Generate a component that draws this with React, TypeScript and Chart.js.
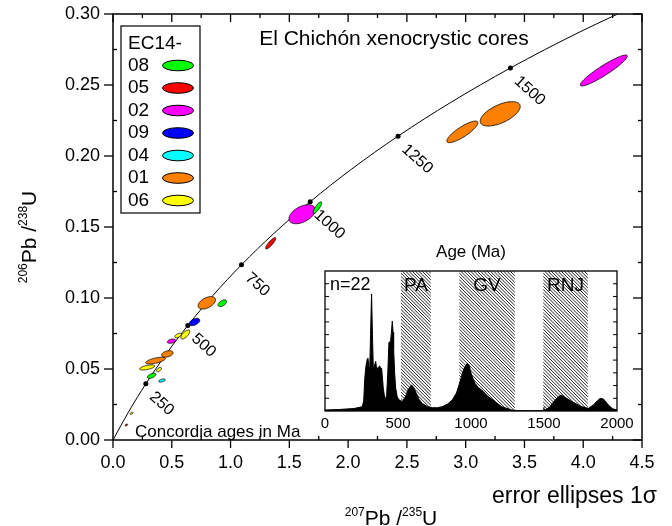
import React, { useEffect, useRef } from "react";
import { Chart, registerables } from "chart.js";
Chart.register(...registerables);

const FONT = '"Liberation Sans", Arial, Helvetica, sans-serif';

// Concordia curve (207Pb/235U, 206Pb/238U) sampled every 125 Ma
const concAges = [0, 125, 250, 375, 500, 625, 750, 875, 1000, 1125, 1250, 1375, 1500, 1625, 1750];
const concX = [0, 0.13101, 0.27917, 0.44675, 0.63628, 0.85064, 1.09307, 1.36729, 1.67741, 2.02817, 2.42487, 2.87355, 3.38099, 3.95492, 4.60404];
const concY = [0, 0.01958, 0.039543, 0.059897, 0.08065, 0.101809, 0.123382, 0.145377, 0.167804, 0.19067, 0.213982, 0.237752, 0.261988, 0.286697, 0.31189];

// Age marks on concordia
const markAges = [250, 500, 750, 1000, 1250, 1500];
const markX = [0.27917, 0.63628, 1.09307, 1.67741, 2.42487, 3.38099];
const markY = [0.039543, 0.08065, 0.123382, 0.167804, 0.213982, 0.261988];

// Legend groups
const groupNames = ["08", "05", "02", "09", "04", "01", "06"];
const groupColors = ["#00ff00", "#ff0000", "#ff00ff", "#0000ff", "#00ffff", "#ff8000", "#ffff00"];

// Grain error ellipses (1 sigma)
const grainGroup = ["02", "01", "01", "02", "08", "05", "01", "08", "09", "06", "06", "02", "01", "01", "06", "06", "08", "04", "06", "05"];
const grainX = [4.175, 3.294, 2.972, 1.609, 1.739, 1.341, 0.798, 0.930, 0.693, 0.615, 0.554, 0.498, 0.462, 0.362, 0.291, 0.391, 0.328, 0.417, 0.157, 0.114];
const grainSX = [0.200, 0.170, 0.132, 0.112, 0.036, 0.0426, 0.074, 0.036, 0.045, 0.038, 0.028, 0.036, 0.049, 0.084, 0.064, 0.021, 0.036, 0.028, 0.012, 0.010];
const grainY = [0.2602, 0.2297, 0.2170, 0.1590, 0.1637, 0.1385, 0.0966, 0.0963, 0.0831, 0.0743, 0.0736, 0.0696, 0.0606, 0.0559, 0.0511, 0.0496, 0.0452, 0.0419, 0.0188, 0.0106];
const grainSY = [0.0109, 0.0086, 0.0076, 0.0067, 0.0041, 0.0040, 0.0044, 0.0024, 0.0026, 0.0032, 0.0016, 0.0015, 0.0023, 0.0024, 0.0018, 0.0015, 0.0018, 0.0011, 0.0008, 0.0007];
const grainRho = [0.93, 0.60, 0.84, 0.47, 0.82, 0.86, 0.48, 0.52, 0.48, 0.69, 0.54, 0.36, 0.35, 0.63, 0.58, 0.58, 0.53, 0.46, 0.5, 0.5];

// Inset: probability density of ages
const kdeAge = [0, 100, 200, 255, 265, 272, 280, 290, 294, 300, 306, 312, 319, 325, 331, 340, 347, 352, 358, 365, 374, 380, 388, 399, 411, 422, 430, 438, 449, 455, 461, 466, 470, 477, 484, 495, 507, 530, 552, 570, 593, 610, 625, 645, 666, 700, 735, 770, 803, 840, 872, 900, 918, 935, 952, 965, 975, 985, 1004, 1027, 1050, 1073, 1118, 1164, 1210, 1278, 1324, 1400, 1484, 1520, 1541, 1565, 1587, 1616, 1644, 1690, 1758, 1804, 1838, 1865, 1884, 1907, 1941, 1970, 2000];
const kdeDensity = [0.8, 1.2, 2, 3.4, 8, 25, 35, 41, 41.5, 36, 31, 60, 92, 60, 33.5, 36, 39, 35, 33.5, 34, 35.5, 34, 33.5, 18, 8.7, 12, 30, 54, 54.5, 62, 70.7, 62, 49, 30, 18, 11, 8.7, 7.4, 11.3, 17, 20.5, 18, 13.9, 9, 6, 3.5, 2.6, 2.6, 3.4, 5.5, 8.7, 14, 20.5, 27, 33.5, 36, 37.5, 36.5, 28.3, 21.8, 18.5, 16.5, 11.3, 7.4, 3.4, 0.8, 0.3, 0.2, 0.3, 1.5, 3.3, 7, 10, 12.5, 10.8, 7.4, 3.4, 2.1, 4.7, 8, 9.9, 9.5, 4.7, 1.8, 0.8];
const zoneNames = ["PA", "GV", "RNJ"];
const zoneStart = [520, 920, 1495];
const zoneEnd = [725, 1300, 1800];

type Part = [string, boolean];
function drawRich(ctx: CanvasRenderingContext2D, parts: Part[], x: number, y: number, size: number, supSize: number, align: "left" | "center" | "right") {
  let w = 0;
  for (const [t, sup] of parts) {
    ctx.font = `${sup ? supSize : size}px ${FONT}`;
    w += ctx.measureText(t).width;
  }
  let cx = align === "left" ? x : align === "center" ? x - w / 2 : x - w;
  ctx.textAlign = "left";
  ctx.textBaseline = "alphabetic";
  for (const [t, sup] of parts) {
    ctx.font = `${sup ? supSize : size}px ${FONT}`;
    ctx.fillText(t, cx, sup ? y - size * 0.42 : y);
    cx += ctx.measureText(t).width;
  }
}

function line(ctx: CanvasRenderingContext2D, x1: number, y1: number, x2: number, y2: number) {
  ctx.beginPath();
  ctx.moveTo(x1, y1);
  ctx.lineTo(x2, y2);
  ctx.stroke();
}

function zeroPad(s: any) {
  s.paddingTop = 0;
  s.paddingBottom = 0;
  s.paddingLeft = 0;
  s.paddingRight = 0;
}

const ellipsePlugin = {
  id: "ellipses",
  afterDatasetsDraw(chart: any) {
    const { ctx, chartArea, scales } = chart;
    const xs = scales.x, ys = scales.y;
    ctx.save();
    ctx.beginPath();
    ctx.rect(chartArea.left, chartArea.top, chartArea.right - chartArea.left, chartArea.bottom - chartArea.top);
    ctx.clip();
    for (let i = 0; i < grainX.length; i++) {
      const r = grainRho[i];
      const q = Math.sqrt(1 - r * r);
      ctx.beginPath();
      for (let k = 0; k <= 90; k++) {
        const th = (k / 90) * Math.PI * 2;
        const dx = grainSX[i] * Math.cos(th);
        const dy = grainSY[i] * (r * Math.cos(th) + q * Math.sin(th));
        const px = xs.getPixelForValue(grainX[i] + dx);
        const py = ys.getPixelForValue(grainY[i] + dy);
        if (k === 0) ctx.moveTo(px, py);
        else ctx.lineTo(px, py);
      }
      ctx.closePath();
      ctx.fillStyle = groupColors[groupNames.indexOf(grainGroup[i])];
      ctx.fill();
      ctx.strokeStyle = "#000";
      ctx.lineWidth = 0.8;
      ctx.stroke();
    }
    ctx.restore();
  },
};

const mainDecor = {
  id: "mainDecor",
  afterDraw(chart: any) {
    const { ctx, chartArea, scales } = chart;
    const { left, right, top, bottom } = chartArea;
    const xs = scales.x, ys = scales.y;
    ctx.save();
    ctx.strokeStyle = "#000";
    ctx.fillStyle = "#000";
    // ticks
    ctx.lineWidth = 1.3;
    for (let i = 0; i <= 18; i++) {
      const px = xs.getPixelForValue(i * 0.25);
      if (i % 2 === 0) {
        line(ctx, px, bottom, px, bottom + 8);
        line(ctx, px, top, px, top + 8);
      } else {
        line(ctx, px, bottom, px, bottom - 4);
        line(ctx, px, top, px, top + 4);
      }
    }
    for (let i = 0; i <= 12; i++) {
      const py = ys.getPixelForValue(i * 0.025);
      if (i % 2 === 0) {
        line(ctx, left, py, left - 9, py);
        line(ctx, right, py, right - 9, py);
      } else {
        line(ctx, left, py, left + 4, py);
        line(ctx, right, py, right - 4, py);
      }
    }
    ctx.lineWidth = 1.5;
    ctx.strokeRect(left, top, right - left, bottom - top);

    // concordia age labels
    ctx.font = `16px ${FONT}`;
    ctx.textAlign = "left";
    ctx.textBaseline = "middle";
    for (let i = 0; i < markAges.length; i++) {
      const px = xs.getPixelForValue(markX[i]);
      const py = ys.getPixelForValue(markY[i]);
      ctx.save();
      ctx.translate(px + 6, py + 11);
      ctx.rotate((42 * Math.PI) / 180);
      ctx.fillText(String(markAges[i]), 0, 0);
      ctx.restore();
    }

    // legend
    ctx.lineWidth = 1.2;
    ctx.fillStyle = "#fff";
    ctx.fillRect(121, 26, 79, 187);
    ctx.strokeRect(121, 26, 79, 187);
    ctx.fillStyle = "#000";
    ctx.font = `19px ${FONT}`;
    ctx.textBaseline = "middle";
    ctx.fillText("EC14-", 128, 44);
    for (let i = 0; i < groupNames.length; i++) {
      const cy = 65.5 + i * 22.5;
      ctx.fillStyle = "#000";
      ctx.fillText(groupNames[i], 128, cy);
      ctx.beginPath();
      ctx.ellipse(178, cy, 15.5, 5.3, 0, 0, Math.PI * 2);
      ctx.fillStyle = groupColors[i];
      ctx.fill();
      ctx.lineWidth = 1;
      ctx.stroke();
    }

    // texts
    ctx.fillStyle = "#000";
    ctx.font = `21px ${FONT}`;
    ctx.textAlign = "center";
    ctx.textBaseline = "middle";
    ctx.fillText("El Chichón xenocrystic cores", 394, 39);
    ctx.font = `17px ${FONT}`;
    ctx.textAlign = "left";
    ctx.fillText("Concordia ages in Ma", 135, 432);
    ctx.font = `23px ${FONT}`;
    ctx.textAlign = "right";
    ctx.fillText("error ellipses 1\u03c3", 657, 497);

    drawRich(ctx, [["207", true], ["Pb /", false], ["235", true], ["U", false]], 391, 525, 21, 12, "center");
    ctx.save();
    ctx.translate(36, 237);
    ctx.rotate(-Math.PI / 2);
    drawRich(ctx, [["206", true], ["Pb /", false], ["238", true], ["U", false]], 0, 0, 21, 12, "center");
    ctx.restore();
    ctx.restore();
  },
};

const insetBg = {
  id: "insetBg",
  beforeDraw(chart: any) {
    const { ctx, chartArea } = chart;
    ctx.save();
    ctx.fillStyle = "#fff";
    ctx.fillRect(chartArea.left, chartArea.top, chartArea.right - chartArea.left, chartArea.bottom - chartArea.top);
    ctx.restore();
  },
  beforeDatasetsDraw(chart: any) {
    const { ctx, chartArea, scales } = chart;
    const xs = scales.x;
    const { top, bottom } = chartArea;
    const h = bottom - top;
    ctx.save();
    ctx.strokeStyle = "#222";
    ctx.lineWidth = 1;
    for (let z = 0; z < zoneNames.length; z++) {
      const x1 = xs.getPixelForValue(zoneStart[z]);
      const x2 = xs.getPixelForValue(zoneEnd[z]);
      ctx.save();
      ctx.beginPath();
      ctx.rect(x1, top, x2 - x1, h);
      ctx.clip();
      for (let x0 = x1 - h - 4; x0 < x2 + 4; x0 += 3.3) {
        line(ctx, x0, top, x0 + h, bottom);
      }
      ctx.restore();
    }
    ctx.restore();
  },
};

const insetDecor = {
  id: "insetDecor",
  afterDraw(chart: any) {
    const { ctx, chartArea, scales } = chart;
    const { left, right, top, bottom } = chartArea;
    const xs = scales.x, ys = scales.y;
    ctx.save();
    ctx.strokeStyle = "#000";
    ctx.fillStyle = "#000";
    ctx.lineWidth = 1;
    for (let v = 10; v < 110; v += 10) {
      const py = ys.getPixelForValue(v);
      line(ctx, left, py, left + 4, py);
      line(ctx, right, py, right - 4, py);
    }
    for (let v = 500; v < 2000; v += 500) {
      const px = xs.getPixelForValue(v);
      line(ctx, px, bottom, px, bottom - 4);
    }
    ctx.lineWidth = 1.3;
    ctx.strokeRect(left, top, right - left, bottom - top);
    ctx.font = `18px ${FONT}`;
    ctx.textBaseline = "middle";
    ctx.textAlign = "left";
    ctx.fillText("n=22", left + 5, top + 14);
    ctx.textAlign = "center";
    ctx.font = `19px ${FONT}`;
    for (let z = 0; z < zoneNames.length; z++) {
      const cx = (xs.getPixelForValue(zoneStart[z]) + xs.getPixelForValue(zoneEnd[z])) / 2;
      ctx.fillText(zoneNames[z], cx, top + 15);
    }
    ctx.font = `17px ${FONT}`;
    ctx.fillText("Age (Ma)", (left + right) / 2, 17);
    ctx.restore();
  },
};

export default function App() {
  const mainRef = useRef<HTMLCanvasElement>(null);
  const insetRef = useRef<HTMLCanvasElement>(null);

  useEffect(() => {
    document.body.style.margin = "0";
    const main = new Chart(mainRef.current as HTMLCanvasElement, {
      type: "scatter",
      data: {
        datasets: [
          {
            data: concX.map((x, i) => ({ x, y: concY[i] })),
            showLine: true,
            borderColor: "#000",
            borderWidth: 1,
            pointRadius: 0,
            cubicInterpolationMode: "monotone",
            fill: false,
          } as any,
          {
            data: markX.map((x, i) => ({ x, y: markY[i] })),
            showLine: false,
            pointRadius: 2.5,
            pointBackgroundColor: "#000",
            pointBorderWidth: 0,
          } as any,
        ],
      },
      options: {
        responsive: false,
        animation: false,
        devicePixelRatio: 1,
        events: [],
        layout: { padding: { left: 0, right: 30, top: 14, bottom: 0 } },
        plugins: { legend: { display: false }, tooltip: { enabled: false } },
        scales: {
          x: {
            type: "linear",
            min: 0,
            max: 4.5,
            grid: { display: false, drawTicks: false },
            border: { display: false },
            ticks: {
              stepSize: 0.5,
              autoSkip: false,
              maxRotation: 0,
              padding: 12,
              color: "#000",
              font: { family: FONT, size: 18 },
              callback: (v: any) => Number(v).toFixed(1),
            },
            afterFit: (s: any) => {
              s.height = 86;
              zeroPad(s);
            },
          },
          y: {
            type: "linear",
            min: 0,
            max: 0.3,
            grid: { display: false, drawTicks: false },
            border: { display: false },
            ticks: {
              stepSize: 0.05,
              autoSkip: false,
              padding: 13,
              color: "#000",
              font: { family: FONT, size: 18 },
              callback: (v: any) => Number(v).toFixed(2),
            },
            afterFit: (s: any) => {
              s.width = 113;
              zeroPad(s);
            },
          },
        },
      } as any,
      plugins: [ellipsePlugin, mainDecor],
    });

    const inset = new Chart(insetRef.current as HTMLCanvasElement, {
      type: "scatter",
      data: {
        datasets: [
          {
            data: kdeAge.map((a, i) => ({ x: a, y: kdeDensity[i] })),
            showLine: true,
            fill: "origin",
            backgroundColor: "#000",
            borderColor: "#000",
            borderWidth: 1,
            pointRadius: 0,
            tension: 0,
          } as any,
        ],
      },
      options: {
        responsive: false,
        animation: false,
        devicePixelRatio: 1,
        events: [],
        layout: { padding: { left: 25, right: 23, top: 36, bottom: 0 } },
        plugins: { legend: { display: false }, tooltip: { enabled: false } },
        scales: {
          x: {
            type: "linear",
            min: 0,
            max: 2000,
            grid: { display: false, drawTicks: false },
            border: { display: false },
            ticks: {
              stepSize: 500,
              autoSkip: false,
              maxRotation: 0,
              padding: 4,
              color: "#000",
              font: { family: FONT, size: 15 },
              callback: (v: any) => String(v),
            },
            afterFit: (s: any) => {
              s.height = 24;
              zeroPad(s);
            },
          },
          y: { type: "linear", display: false, min: 0, max: 110 },
        },
      } as any,
      plugins: [insetBg, insetDecor],
    });

    return () => {
      main.destroy();
      inset.destroy();
    };
  }, []);

  return (
    <div style={{ position: "fixed", left: 0, top: 0, width: 672, height: 526, background: "#fff" }}>
      <canvas ref={mainRef} width={672} height={526} style={{ position: "absolute", left: 0, top: 0, width: 672, height: 526 }} />
      <canvas ref={insetRef} width={340} height={200} style={{ position: "absolute", left: 300, top: 235, width: 340, height: 200 }} />
    </div>
  );
}
